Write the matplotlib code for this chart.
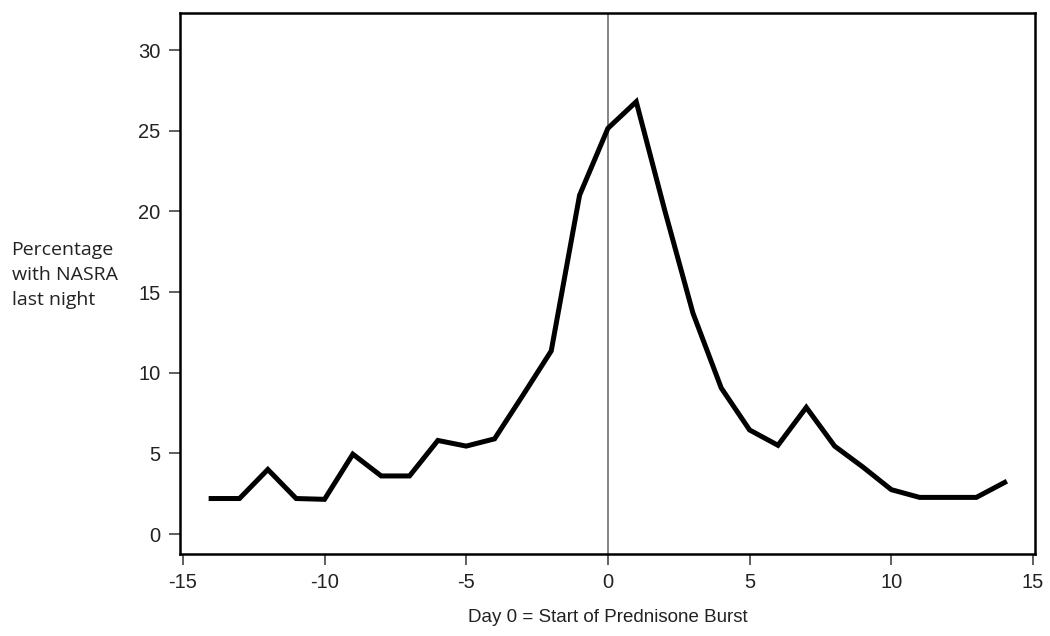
import matplotlib
matplotlib.use("Agg")
import matplotlib.pyplot as plt

matplotlib.rcParams['axes.unicode_minus'] = False

days = list(range(-14, 15))
pct = [2.2, 2.2, 4.0, 2.2, 2.15, 4.95, 3.6, 3.6, 5.8, 5.45, 5.9, 8.6, 11.35,
       21.0, 25.15, 26.8, 20.1, 13.7, 9.05, 6.45, 5.5, 7.85, 5.45, 4.15,
       2.75, 2.27, 2.27, 2.27, 3.2]
xticks = [-15, -10, -5, 0, 5, 10, 15]
yticks = [0, 5, 10, 15, 20, 25, 30]

fig = plt.figure(figsize=(10.5, 6.36), dpi=100)
ax = fig.add_axes([0.1714, 0.1289, 0.8143, 0.8507])

ax.axvline(0, color='#707070', lw=1.2, zorder=1)
ax.plot(days, pct, color='black', lw=3.6, solid_joinstyle='miter', zorder=2)

ax.set_xlim(-15.1, 15.07)
ax.set_ylim(-1.24, 32.3)
ax.set_xticks(xticks)
ax.set_yticks(yticks)
ax.tick_params(labelsize=14.5, length=8, width=1.2, color='#444444', pad=6,
               labelcolor='#222222')
for lbl in ax.get_xticklabels() + ax.get_yticklabels():
    lbl.set_fontfamily('Liberation Sans')
for s in ax.spines.values():
    s.set_linewidth(1.8)
    s.set_color('black')

ax.set_xlabel("Day 0 = Start of Prednisone Burst", fontsize=13.5,
              family='Liberation Sans', labelpad=12, color='#222222')
fig.text(0.011, 0.567, "Percentage\nwith NASRA\nlast night", fontsize=14,
         family='Open Sans', ha='left', va='center', linespacing=1.5,
         color='#222222')

fig.savefig("out.png", dpi=100)
